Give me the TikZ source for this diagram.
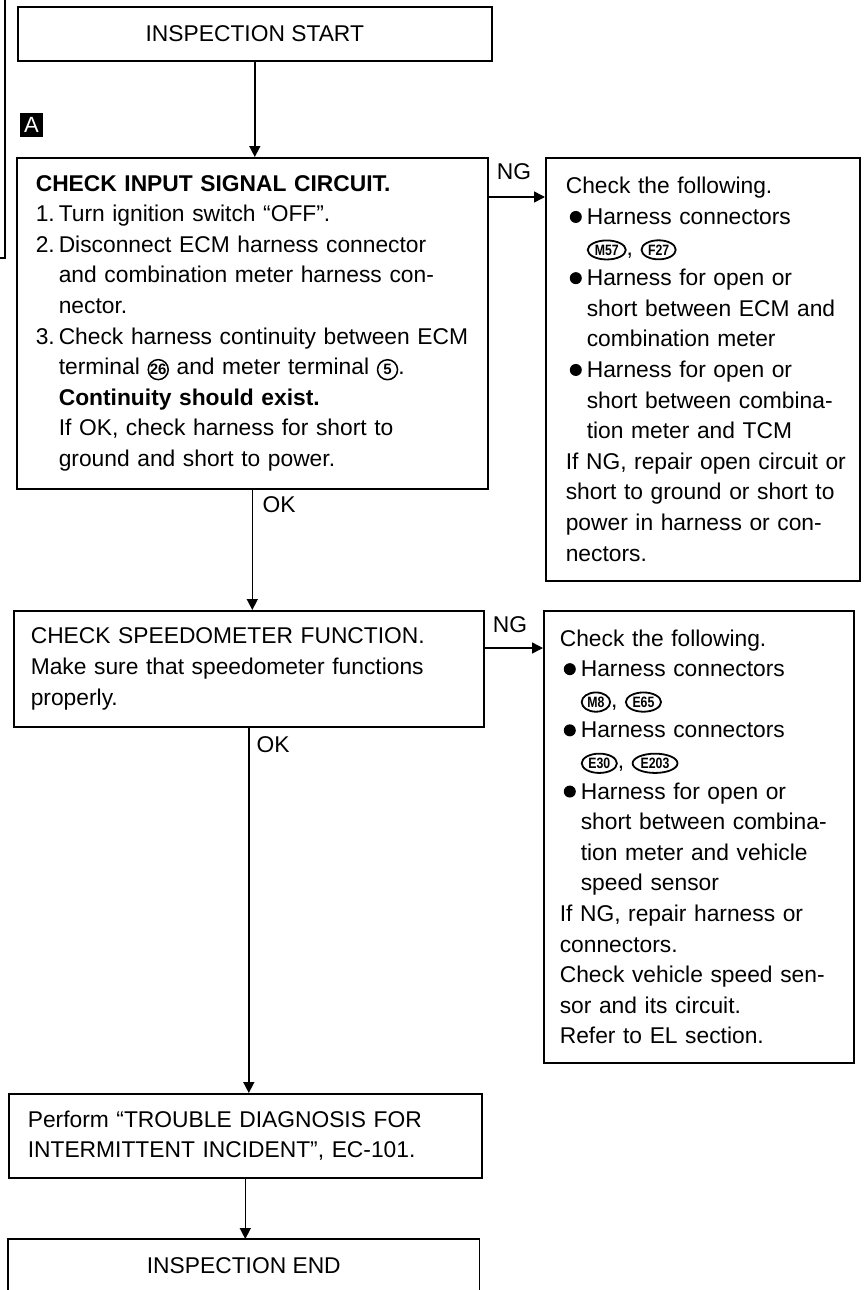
\documentclass[tikz,border=0pt]{standalone}
\usepackage{fontspec}
\usepackage{graphicx}
\setmainfont{Liberation Sans}
\usetikzlibrary{positioning,arrows.meta,shapes.geometric}

% small inline marks used in the text
\newcommand{\conn}[1]{\tikz[baseline=(cn.base)]\node[ellipse,draw,line width=1.8pt,inner xsep=1.5pt,inner ysep=1.5pt,minimum width=0pt,minimum height=19pt,text width=,align=center,font=\bfseries\fontsize{15}{15}\selectfont] (cn) {\scalebox{0.82}[1]{#1}};}
\newcommand{\cnum}[1]{\tikz[baseline=(cn.base)]\node[circle,draw,line width=1.5pt,inner sep=0pt,minimum size=20pt,text width=,align=center,font=\bfseries\fontsize{15}{15}\selectfont] (cn) {#1};}
\newcommand{\dotitem}{\makebox[21pt][l]{\hspace{4pt}\tikz[baseline={(0pt,-7.5pt)}]\fill (0pt,0pt) circle (6pt);}}
\newcommand{\numitem}[1]{\makebox[23pt][l]{#1}}
\newcommand{\indt}{\makebox[21pt]{}}
\newcommand{\wide}[1]{\makebox[0pt][l]{#1}}

\begin{document}
\begin{tikzpicture}[x=1pt,y=-1pt,
    box/.style={draw,line width=1.6pt,anchor=north west,align=left,inner ysep=0pt,
      font=\fontsize{22.8}{30.6}\selectfont},
    arr/.style={line width=1.5pt,-{Triangle[length=11pt,width=11pt]}},
    lbl/.style={font=\fontsize{22.8}{26}\selectfont,inner sep=0pt}]
    \useasboundingbox (0,0) rectangle (865,1290);
    % Below nodes are the boxes of the chart.
        \node[box,minimum width=474pt,minimum height=54pt,align=center] (start) at (17,6) {INSPECTION START};
        \node[box,text width=433pt,inner xsep=19pt,minimum height=331pt] (chk) at (16,157)
            {\textbf{CHECK INPUT SIGNAL CIRCUIT.}\\
             \numitem{1.}Turn ignition switch ``OFF''.\\
             \numitem{2.}Disconnect ECM harness connector\\
             \numitem{}and combination meter harness con-\\
             \numitem{}nector.\\
             \wide{\numitem{3.}Check harness continuity between ECM}\\
             \numitem{}terminal \cnum{26} and meter terminal \cnum{5}.\\
             \numitem{}\textbf{Continuity should exist.}\\
             \numitem{}If OK, check harness for short to\\
             \numitem{}ground and short to power.};
        \node[box,text width=274pt,inner xsep=20pt,minimum height=423pt] (ngone) at (545,157)
            {Check the following.\\
             \dotitem Harness connectors\\
             \indt\conn{M57}, \conn{F27}\\
             \dotitem Harness for open or\\
             \wide{\indt short between ECM and}\\
             \indt combination meter\\
             \dotitem Harness for open or\\
             \wide{\indt short between combina-}\\
             \indt tion meter and TCM\\
             \wide{If NG, repair open circuit or}\\
             \wide{short to ground or short to}\\
             power in harness or con-\\
             nectors.};
        \node[box,text width=436pt,inner xsep=17pt,minimum height=116pt] (speed) at (13,610)
            {CHECK SPEEDOMETER FUNCTION.\\
             Make sure that speedometer functions\\
             properly.};
        \node[box,text width=278pt,inner xsep=16pt,minimum height=452pt] (ngtwo) at (543,610)
            {Check the following.\\
             \dotitem Harness connectors\\
             \indt\conn{M8}, \conn{E65}\\
             \dotitem Harness connectors\\
             \indt\conn{E30}, \conn{E203}\\
             \dotitem Harness for open or\\
             \wide{\indt short between combina-}\\
             \indt tion meter and vehicle\\
             \indt speed sensor\\
             If NG, repair harness or\\
             connectors.\\
             Check vehicle speed sen-\\
             sor and its circuit.\\
             Refer to EL section.};
        \node[box,text width=435pt,inner xsep=19pt,minimum height=84pt] (perf) at (8,1093)
            {Perform ``TROUBLE DIAGNOSIS FOR\\
             INTERMITTENT INCIDENT'', EC-101.};
        \node[box,draw=none,minimum width=470pt,minimum height=51pt,align=center] (finish) at (8,1239) {INSPECTION END};
        \draw[line width=1.6pt] (finish.south west) |- (finish.north east) -- (finish.south east);
    % This draws the mark and the line on the left.
        \node[fill=black,text=white,minimum width=23pt,minimum height=24pt,inner sep=0pt,
            font=\fontsize{22}{22}\selectfont] (marka) at (31.5,125) {A};
        \draw[line width=1.6pt] (5,0) |- (0,258);
    % Connectors.
        \coordinate (ngA) at ([yshift=-40pt]chk.north east);
        \coordinate (ngB) at ([yshift=-38pt]speed.north east);
        \draw[arr] (start.south) -- (start.south |- chk.north);
        \draw[arr] (ngA) -- (ngA -| ngone.west);
        \draw[arr] (chk.south) -- (chk.south |- speed.north);
        \draw[arr] (ngB) -- (ngB -| ngtwo.west);
        \draw[arr] (speed.south) -- (speed.south |- perf.north);
        \draw[arr] (perf.south) -- (perf.south |- finish.north);
    % Below nodes are the labels.
        \node[lbl] (ngonelbl) at (514,172) {NG};
        \node[lbl] (ngtwolbl) at (510,625) {NG};
        \node[lbl] (okonelbl) at (279,505) {OK};
        \node[lbl] (oktwolbl) at (273,745) {OK};
\end{tikzpicture}
\end{document}
